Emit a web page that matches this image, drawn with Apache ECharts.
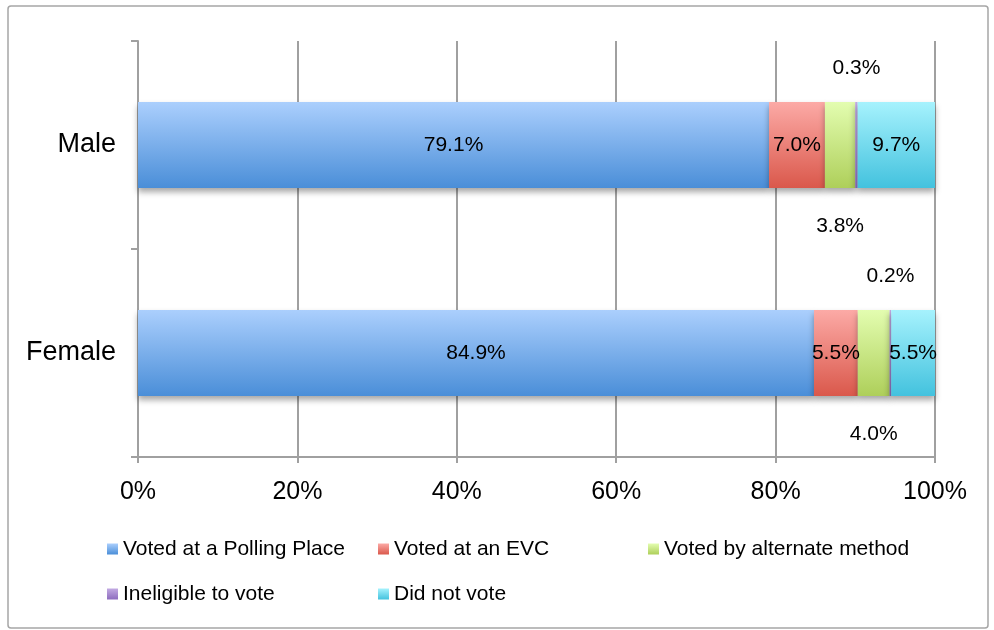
<!DOCTYPE html>
<html>
<head>
<meta charset="utf-8">
<script src="https://cdn.jsdelivr.net/npm/echarts@6/dist/echarts.min.js"></script>
<style>
  html, body { margin: 0; padding: 0; background: #fff; }
  #chart { width: 994px; height: 630px; }
</style>
</head>
<body>
<div id="chart"></div>
<script>
// Voting method by gender, shares of each group
const categories = ['Male', 'Female'];
const seriesNames = [
  'Voted at a Polling Place',
  'Voted at an EVC',
  'Voted by alternate method',
  'Ineligible to vote',
  'Did not vote'
];
const pollingPlace = [79.1, 84.9];
const evc = [7.0, 5.5];
const alternate = [3.8, 4.0];
const ineligible = [0.3, 0.2];
const didNotVote = [9.7, 5.5];
const xTicks = ['0%', '20%', '40%', '60%', '80%', '100%'];

const values = [pollingPlace, evc, alternate, ineligible, didNotVote];
// row totals so each bar fills 100%
const totals = categories.map((_, i) => values.reduce((s, arr) => s + arr[i], 0));

const FONT = 'Liberation Sans, Arial, sans-serif';

const gradients = [
  ['#abcffd', '#4a8ed8'],
  ['#fcaaa6', '#da584b'],
  ['#e3fdb0', '#aecf5a'],
  ['#c2aae2', '#8d6cbe'],
  ['#a6f2fd', '#43c2de']
];
function grad(c) {
  return new echarts.graphic.LinearGradient(0, 0, 0, 1, [
    { offset: 0, color: c[0] },
    { offset: 1, color: c[1] }
  ]);
}

// label placement per series: inside for the wide segments,
// above / below the bar for the thin ones
const labelPos = ['inside', 'inside', 'bottom', 'top', 'inside'];
const labelDist = [5, 5, 28, 23, 5];

const series = seriesNames.map((name, k) => ({
  name: name,
  type: 'bar',
  stack: 'total',
  barWidth: 86,
  data: values[k].map((v, i) => ({ value: v / totals[i] * 100, raw: v })),
  itemStyle: {
    color: grad(gradients[k]),
    shadowColor: 'rgba(0,0,0,0.35)',
    shadowBlur: 6,
    shadowOffsetY: 4
  },
  label: {
    show: true,
    position: labelPos[k],
    distance: labelDist[k],
    fontFamily: FONT,
    fontSize: 21,
    color: '#000',
    formatter: p => p.data.raw.toFixed(1) + '%'
  },
  emphasis: { disabled: true }
}));

const legendText = {
  fontFamily: FONT,
  fontSize: 21,
  color: '#000',
  lineHeight: 22
};
function legendAt(left, names) {
  return {
    orient: 'vertical',
    left: left,
    top: 538,
    padding: 0,
    itemWidth: 11,
    itemHeight: 11,
    itemGap: 23,
    icon: 'rect',
    selectedMode: false,
    textStyle: legendText,
    data: names
  };
}

const chart = echarts.init(document.getElementById('chart'), null, { renderer: 'canvas' });
chart.setOption({
  animation: false,
  backgroundColor: '#fff',
  graphic: [{
    type: 'rect',
    shape: { x: 8, y: 6, width: 980, height: 622, r: 3 },
    style: { fill: 'none', stroke: '#a6a6a6', lineWidth: 1.5 },
    silent: true,
    z: -1
  }],
  grid: { left: 138, right: 59, top: 41, bottom: 173, containLabel: false },
  xAxis: {
    type: 'value',
    min: 0,
    max: 100,
    interval: 20,
    axisLine: { show: true, lineStyle: { color: '#a0a0a0', width: 2 } },
    axisTick: { show: true, length: 6, lineStyle: { color: '#a0a0a0', width: 2 } },
    splitLine: { show: true, lineStyle: { color: '#a0a0a0', width: 2 } },
    axisLabel: {
      margin: 23,
      fontFamily: FONT,
      fontSize: 25,
      color: '#000',
      formatter: v => xTicks[Math.round(v / 20)]
    }
  },
  yAxis: {
    type: 'category',
    inverse: true,
    data: categories,
    axisLine: { show: true, lineStyle: { color: '#a0a0a0', width: 2 } },
    axisTick: { show: true, length: 7, lineStyle: { color: '#a0a0a0', width: 2 } },
    axisLabel: {
      margin: 22,
      padding: [6, 0, 0, 0],
      fontFamily: FONT,
      fontSize: 27,
      color: '#000'
    }
  },
  legend: [
    legendAt(107, [seriesNames[0], seriesNames[3]]),
    legendAt(378, [seriesNames[1], seriesNames[4]]),
    legendAt(648, [seriesNames[2]])
  ],
  series: series
});
</script>
</body>
</html>
